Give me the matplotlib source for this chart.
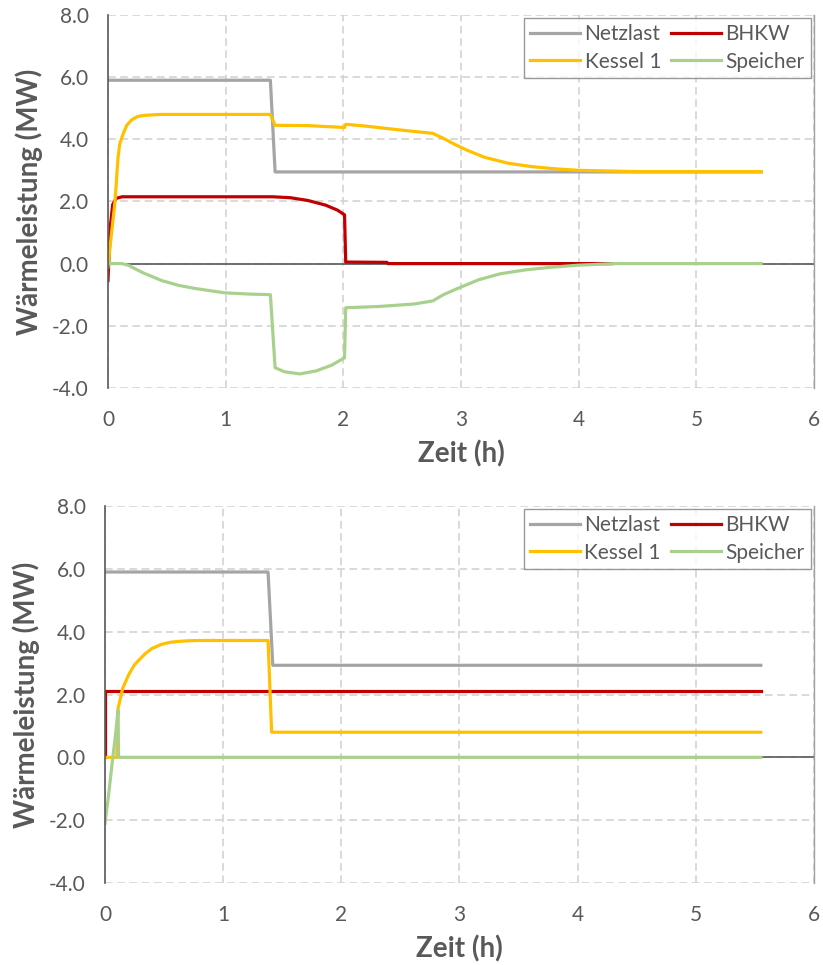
import matplotlib
matplotlib.use('Agg')
import matplotlib.pyplot as plt

plt.rcParams['font.family'] = ['Lato', 'DejaVu Sans']

# upper chart
net_t = [0, 1.38, 1.42, 5.55]
net_p = [5.9, 5.9, 2.95, 2.95]
bhkw_t = [0, 0.02, 0.04, 0.07, 0.12, 1.0, 1.4, 1.55, 1.7, 1.85, 1.95, 2.01, 2.02, 2.37, 2.38, 4.28]
bhkw_p = [-0.55, 1.2, 1.9, 2.1, 2.15, 2.15, 2.15, 2.12, 2.03, 1.88, 1.72, 1.57, 0.05, 0.04, 0.0, 0.0]
kessel_t = [0, 0.03, 0.06, 0.085, 0.1, 0.13, 0.16, 0.2, 0.25, 0.31, 0.45, 1.38, 1.42, 1.7, 2.01, 2.02, 2.03,
            2.2, 2.48, 2.76, 2.85, 2.95, 3.05, 3.2, 3.4, 3.6, 3.8, 4.0, 4.5, 5.55]
kessel_p = [-0.1, 0.97, 2.0, 3.4, 3.85, 4.19, 4.45, 4.62, 4.73, 4.77, 4.8, 4.8, 4.45, 4.44, 4.38, 4.48, 4.48,
            4.42, 4.3, 4.19, 4.03, 3.83, 3.65, 3.42, 3.23, 3.12, 3.05, 3.0, 2.96, 2.96]
speicher_t = [0, 0.12, 0.17, 0.3, 0.46, 0.6, 0.74, 0.99, 1.2, 1.38, 1.42, 1.5, 1.63, 1.77, 1.9, 2.01,
              2.02, 2.3, 2.6, 2.76, 2.85, 2.99, 3.15, 3.33, 3.55, 3.76, 4.0, 4.3, 5.55]
speicher_p = [0, 0, -0.05, -0.3, -0.55, -0.7, -0.8, -0.94, -0.98, -1.0, -3.35, -3.48, -3.55, -3.45, -3.27, -3.03,
              -1.42, -1.38, -1.3, -1.2, -1.0, -0.77, -0.52, -0.33, -0.2, -0.12, -0.05, 0, 0]

# lower chart
net2_t = [0, 1.38, 1.42, 5.55]
net2_p = [5.9, 5.9, 2.93, 2.93]
bhkw2_t = [0, 0, 5.55]
bhkw2_p = [0, 2.12, 2.12]
kessel2_t = [0, 0.1, 0.11, 0.15, 0.2, 0.25, 0.34, 0.4, 0.48, 0.55, 0.62, 0.7, 0.8, 1.38, 1.41, 5.55]
kessel2_p = [0, 0, 1.55, 2.2, 2.63, 2.95, 3.3, 3.47, 3.6, 3.66, 3.69, 3.71, 3.72, 3.72, 0.8, 0.8]
speicher2_t = [0, 0.03, 0.06, 0.09, 0.11, 0.115, 5.55]
speicher2_p = [-2.1, -1.2, -0.2, 0.75, 1.5, 0, 0]

labels = ['Netzlast', 'BHKW', 'Kessel 1', 'Speicher']
colors = ['#A5A5A5', '#C00000', '#FFC000', '#A9D18E']
yticks = [-4, -2, 0, 2, 4, 6, 8]
xticks = [0, 1, 2, 3, 4, 5, 6]
txt = '#595959'

fig = plt.figure(figsize=(8.23, 9.65), dpi=100)
ax1 = fig.add_axes([0.1312, 0.598, 0.858, 0.3865])
ax2 = fig.add_axes([0.1276, 0.085, 0.8614, 0.3906])

series = [
    (ax1, [(net_t, net_p), (bhkw_t, bhkw_p), (kessel_t, kessel_p), (speicher_t, speicher_p)]),
    (ax2, [(net2_t, net2_p), (bhkw2_t, bhkw2_p), (kessel2_t, kessel2_p), (speicher2_t, speicher2_p)]),
]

for ax, data in series:
    ax.axhline(0, color='#595959', lw=1.2, zorder=1)
    lines = []
    for (t, p), lab, c in zip(data, labels, colors):
        ln, = ax.plot(t, p, color=c, lw=2.3, label=lab, zorder=2)
        lines.append(ln)
    ax.set_xlim(0, 6)
    ax.set_ylim(-4, 8)
    ax.set_xticks(xticks)
    ax.set_yticks(yticks)
    ax.set_yticklabels([f'{v:.1f}' for v in yticks])
    ax.grid(True, color='#D0D0D0', ls=(0, (5, 3)), lw=1.1)
    ax.set_axisbelow(True)
    ax.tick_params(length=0, labelsize=15, colors=txt)
    ax.tick_params(axis='x', pad=16)
    ax.tick_params(axis='y', pad=14)
    for s in ['top', 'bottom']:
        ax.spines[s].set_visible(False)
    ax.spines['left'].set_color('#595959')
    ax.spines['left'].set_linewidth(1.2)
    ax.spines['right'].set_color('#A0A0A0')
    ax.spines['right'].set_linewidth(1.0)
    ax.set_xlabel('Zeit (h)', fontsize=20, fontweight='bold', color=txt, labelpad=7)
    ax.set_ylabel('Wärmeleistung (MW)', fontsize=20, fontweight='bold', color=txt, labelpad=6)
    # row-wise order like the original: Netzlast, BHKW / Kessel 1, Speicher
    order = [0, 2, 1, 3]
    leg = ax.legend([lines[i] for i in order], [labels[i] for i in order],
                    ncol=2, loc='upper right', fontsize=15, frameon=True, fancybox=False,
                    edgecolor='#808080', handlelength=2.4, handletextpad=0.2, columnspacing=0.5,
                    borderaxespad=0.15, borderpad=0.3, labelspacing=0.35)
    leg.get_frame().set_linewidth(1.0)
    for t in leg.get_texts():
        t.set_color(txt)

fig.savefig('out.png', dpi=100)
